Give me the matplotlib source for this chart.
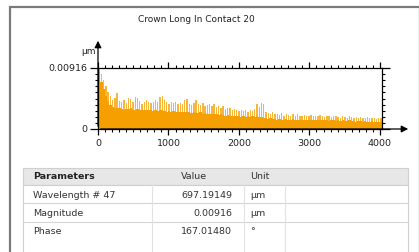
import numpy as np
import matplotlib
matplotlib.use("Agg")
import matplotlib.pyplot as plt
from matplotlib.patches import Rectangle, FancyArrowPatch
from matplotlib.ticker import MultipleLocator, FixedLocator

W, H = 419, 252

title = "Crown Long In Contact 20"
y_unit = "µm"
y_max = 0.00916
x_ticks = [0, 1000, 2000, 3000, 4000]
bin_width = 32

# dense (lower) level of the spectrum per bin, in 1e-3 µm
spectrum_level = [
    8.6, 7.0, 6.0, 5.0, 4.2, 3.6, 3.3, 3.2, 3.1, 3.2, 3.0, 2.9, 3.0, 3.0, 3.1, 2.9,
    2.8, 3.0, 2.9, 2.8, 2.9, 2.8, 2.9, 2.8, 2.7, 2.8, 2.7, 2.8, 2.9, 2.7, 2.6, 2.7,
    2.6, 2.7, 2.5, 2.6, 2.6, 2.5, 2.6, 2.5, 2.6, 2.4, 2.5, 2.4, 2.4, 2.5, 2.3, 2.4,
    2.3, 2.3, 2.2, 2.3, 2.2, 2.1, 2.2, 2.1, 2.0, 2.1, 2.0, 1.9, 2.0, 1.9, 1.9, 1.8,
    1.9, 1.8, 1.9, 1.8, 1.9, 1.8, 1.9, 1.8, 1.8, 1.7, 1.6, 1.5, 1.6, 1.5, 1.5, 1.4,
    1.5, 1.4, 1.4, 1.5, 1.4, 1.4, 1.5, 1.4, 1.4, 1.3, 1.4, 1.4, 1.3, 1.4, 1.3, 1.3,
    1.4, 1.3, 1.3, 1.4, 1.3, 1.3, 1.2, 1.3, 1.3, 1.2, 1.3, 1.2, 1.3, 1.2, 1.2, 1.3,
    1.2, 1.2, 1.1, 1.2, 1.2, 1.1, 1.2, 1.1, 1.1, 1.2, 1.1, 1.1, 1.0, 1.1, 1.1, 1.0,
]
# peak (spike) height per bin, in 1e-3 µm
spectrum_peaks = [
    9.0, 8.3, 7.4, 6.4, 5.6, 4.9, 4.4, 4.6, 5.4, 4.2, 4.0, 4.3, 3.9, 4.7, 4.5, 4.0,
    4.8, 4.6, 4.2, 3.8, 4.0, 4.3, 4.1, 3.9, 4.1, 4.4, 4.0, 4.8, 4.9, 4.3, 4.0, 3.8,
    4.0, 3.9, 4.1, 3.7, 3.9, 3.8, 4.4, 4.5, 3.8, 3.6, 3.9, 4.3, 3.7, 3.6, 3.9, 3.5,
    3.6, 3.8, 3.4, 3.7, 3.3, 3.4, 3.2, 3.5, 3.0, 3.2, 3.1, 2.9, 3.0, 2.8, 2.7, 2.9,
    2.7, 2.8, 2.6, 2.9, 2.7, 3.0, 3.8, 3.3, 3.9, 3.7, 2.6, 2.4, 2.3, 2.5, 2.2, 2.3,
    2.1, 2.4, 2.0, 2.2, 2.1, 2.0, 2.3, 1.9, 2.2, 2.0, 1.9, 2.1, 2.0, 1.9, 2.1, 1.9,
    2.0, 1.9, 2.1, 2.0, 1.8, 1.9, 2.0, 1.8, 1.9, 2.0, 1.8, 1.7, 1.9, 1.8, 1.7, 1.9,
    1.8, 1.7, 1.8, 1.6, 1.8, 1.7, 1.6, 1.8, 1.6, 1.7, 1.6, 1.5, 1.7, 1.6, 1.5, 1.4,
]

table_header = ["Parameters", "Value", "Unit"]
table_params = ["Wavelength # 47", "Magnitude", "Phase"]
table_values = ["697.19149", "0.00916", "167.01480"]
table_units = ["µm", "µm", "°"]

plt.rcParams['font.family'] = ['DejaVu Sans']

fig = plt.figure(figsize=(W / 100, H / 100), dpi=100)
fig.patch.set_facecolor('white')


def fx(x):
    return x / W


def fy(y):
    return 1 - y / H


# outer panel frame
fig.add_artist(Rectangle((fx(10), fy(260)), fx(420) - fx(10), fy(7) - fy(260),
                         transform=fig.transFigure, facecolor='white',
                         edgecolor='#7a7a7a', linewidth=1.6, zorder=-5))

# title
fig.text(fx(196), fy(20), title, ha='center', va='center', fontsize=6.5, color='#222222')

# plot axes
ax_l, ax_r, ax_t, ax_b = 98, 382, 68, 129
ax = fig.add_axes([fx(ax_l), fy(ax_b), fx(ax_r) - fx(ax_l), fy(ax_t) - fy(ax_b)])
ax.set_zorder(2)
ax.set_facecolor('white')
xs = np.arange(len(spectrum_level)) * bin_width
ax.bar(xs + bin_width * 0.2, np.array(spectrum_peaks) * 1e-3, width=bin_width * 0.6,
       align='edge', color='#F7B53C', linewidth=0)
ax.bar(xs, np.array(spectrum_level) * 1e-3, width=bin_width, align='edge',
       color='#F5A000', linewidth=0)
ax.set_xlim(0, 4030)
ax.set_ylim(0, y_max)
for s in ax.spines.values():
    s.set_linewidth(0.9)
    s.set_color('black')

ax.xaxis.set_major_locator(FixedLocator(x_ticks))
ax.xaxis.set_minor_locator(MultipleLocator(100))
ax.yaxis.set_major_locator(FixedLocator([0, y_max]))
ax.yaxis.set_minor_locator(MultipleLocator(y_max / 10))
ax.set_xticklabels([str(t) for t in x_ticks])
ax.set_yticklabels(["0", f"{y_max:.5f}"])
ax.tick_params(axis='x', which='major', direction='out', length=4, width=0.9,
               top=True, bottom=True, labelsize=6.8, pad=3, labelcolor='#222222')
ax.tick_params(axis='x', which='minor', direction='out', length=2.2, width=0.8,
               top=True, bottom=True)
ax.tick_params(axis='y', which='major', direction='out', length=6, width=0.9,
               left=True, right=True, labelsize=6.8, pad=2, labelcolor='#222222')
ax.tick_params(axis='y', which='minor', direction='out', length=2.2, width=0.8,
               left=True, right=True)

# axis arrows
fig.add_artist(FancyArrowPatch((fx(98), fy(129)), (fx(98), fy(38)), transform=fig.transFigure,
                               arrowstyle='-|>,head_length=4,head_width=2',
                               color='black', linewidth=0.9, mutation_scale=1, zorder=3))
fig.add_artist(FancyArrowPatch((fx(98), fy(129)), (fx(411), fy(129)), transform=fig.transFigure,
                               arrowstyle='-|>,head_length=4,head_width=2',
                               color='black', linewidth=0.9, mutation_scale=1, zorder=3))
fig.text(fx(88), fy(52), y_unit, ha='center', va='center', fontsize=6.5, color='#222222')

# table
t_l, t_r = 23, 408
fig.add_artist(Rectangle((fx(t_l), fy(185)), fx(t_r) - fx(t_l), fy(168) - fy(185),
                         transform=fig.transFigure, facecolor='#e7e7e7',
                         edgecolor='#cfcfcf', linewidth=0.8))
fig.add_artist(Rectangle((fx(t_l), fy(262)), fx(t_r) - fx(t_l), fy(185) - fy(262),
                         transform=fig.transFigure, facecolor='white',
                         edgecolor='#cfcfcf', linewidth=0.8))
for y in [203, 222]:
    fig.add_artist(plt.Line2D([fx(t_l), fx(t_r)], [fy(y), fy(y)], transform=fig.transFigure,
                              color='#d4d4d4', linewidth=0.8))
for x in [152, 244, 285]:
    fig.add_artist(plt.Line2D([fx(x), fx(x)], [fy(185), fy(262)], transform=fig.transFigure,
                              color='#e2e2e2', linewidth=0.8))

fs = 6.8
fig.text(fx(33), fy(176.5), table_header[0], ha='left', va='center', fontsize=fs,
         fontweight='bold', color='#222222')
fig.text(fx(194), fy(176.5), table_header[1], ha='center', va='center', fontsize=fs, color='#333333')
fig.text(fx(250), fy(176.5), table_header[2], ha='left', va='center', fontsize=fs, color='#333333')
row_c = [195, 213, 232]
for i in range(len(table_params)):
    yc = fy(row_c[i])
    fig.text(fx(33), yc, table_params[i], ha='left', va='center', fontsize=fs, color='#333333')
    fig.text(fx(232), yc, table_values[i], ha='right', va='center', fontsize=fs, color='#333333')
    fig.text(fx(250), yc, table_units[i], ha='left', va='center', fontsize=fs, color='#333333')

fig.savefig('out.png', dpi=100, facecolor=fig.get_facecolor())
